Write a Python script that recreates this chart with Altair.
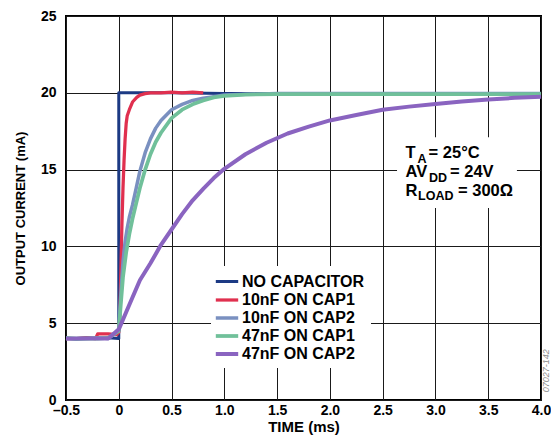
import altair as alt
import pandas as pd

# ---------------- data ----------------
series_names = ["NO CAPACITOR", "10nF ON CAP1", "10nF ON CAP2", "47nF ON CAP1", "47nF ON CAP2"]
series_colors = ["#1c3a84", "#e0304f", "#7a90c0", "#70c09a", "#8a64c0"]
series_widths = [3.0, 4.0, 2.8, 2.3, 2.0]

nocap_t = [-0.5, -0.4, -0.3, -0.2, -0.1, 0.0, 0.0, 0.2, 0.5, 1.0, 2.0, 3.0, 4.0]
nocap_v = [4.0, 4.0, 4.05, 4.0, 4.05, 4.0, 20.0, 20.0, 20.0, 19.95, 19.95, 19.95, 19.95]

cap1_10_t = [-0.5, -0.4, -0.3, -0.22, -0.2, -0.1, -0.02, 0.0, 0.01, 0.02, 0.03, 0.04, 0.05,
             0.06, 0.07, 0.08, 0.1, 0.13, 0.17, 0.2, 0.25, 0.3, 0.4, 0.5, 0.6, 0.7, 0.8]
cap1_10_v = [4.0, 4.0, 4.05, 4.0, 4.3, 4.3, 4.25, 4.4, 5.5, 8.5, 11.5, 13.8, 15.6,
             17.0, 18.0, 18.5, 18.9, 19.4, 19.7, 19.85, 19.95, 20.0, 20.0, 20.05, 20.0, 20.05, 20.0]

cap2_10_t = [-0.5, -0.4, -0.3, -0.2, -0.1, 0.0, 0.02, 0.04, 0.06, 0.08, 0.1, 0.13, 0.165,
             0.2, 0.25, 0.3, 0.35, 0.4, 0.5, 0.6, 0.7, 0.8, 0.9, 1.0, 1.2, 1.5, 2.0, 2.5,
             3.0, 3.5, 4.0]
cap2_10_v = [4.0, 3.95, 4.0, 4.05, 4.0, 4.5, 7.0, 9.0, 10.3, 11.2, 11.9, 12.7, 13.8,
             14.9, 16.1, 17.0, 17.7, 18.2, 18.9, 19.25, 19.5, 19.65, 19.75, 19.85, 19.9, 19.95, 19.95, 19.95,
             19.95, 19.95, 19.95]

cap1_47_t = [-0.5, -0.4, -0.3, -0.2, -0.1, 0.0, 0.02, 0.04, 0.07, 0.1, 0.13, 0.165, 0.2,
             0.25, 0.3, 0.35, 0.4, 0.5, 0.6, 0.7, 0.8, 0.9, 1.0, 1.2, 1.5, 2.0, 2.5, 3.0,
             3.5, 4.0]
cap1_47_v = [4.05, 4.0, 4.0, 4.0, 4.05, 4.5, 6.3, 8.0, 9.6, 10.8, 11.8, 12.8, 13.8,
             15.0, 16.0, 16.8, 17.4, 18.35, 18.9, 19.25, 19.5, 19.7, 19.8, 19.88, 19.92, 19.92, 19.92, 19.92,
             19.92, 19.92]

cap2_47_t = [-0.5, -0.4, -0.3, -0.2, -0.1, 0.0, 0.1, 0.2, 0.3, 0.4, 0.5, 0.6, 0.7, 0.8,
             0.9, 1.0, 1.2, 1.4, 1.6, 1.8, 2.0, 2.25, 2.5, 2.75, 3.0, 3.25, 3.5, 3.75, 4.0]
cap2_47_v = [4.0, 4.0, 4.0, 4.0, 4.0, 4.6, 6.2, 7.8, 8.9, 10.1, 11.1, 12.1, 13.0, 13.75,
             14.45, 15.05, 16.0, 16.75, 17.35, 17.8, 18.2, 18.55, 18.9, 19.1, 19.27, 19.43, 19.57, 19.67, 19.75]

# annotation box (data coordinates) and annotation text pieces
box_t = [2.636, 3.772]
box_v = [12.5, 17.1]
ann_text = ["T", "A", "= 25°C", "AV", "DD", "= 24V", "R", "LOAD", "= 300Ω"]
ann_t = [2.716, 2.831, 2.935, 2.716, 2.939, 3.138, 2.716, 2.835, 3.214]
ann_v = [15.74, 15.43, 15.74, 14.54, 14.21, 14.54, 13.30, 13.02, 13.30]
ann_size = [16.5, 12.5, 16.5, 16.5, 12.5, 16.5, 16.5, 12.5, 16.5]

x_ticks = [-0.5, 0.0, 0.5, 1.0, 1.5, 2.0, 2.5, 3.0, 3.5, 4.0]
y_ticks = [0, 5, 10, 15, 20, 25]

# ---------------- tables ----------------
rows = []
for name, ts, vs in zip(series_names,
                        [nocap_t, cap1_10_t, cap2_10_t, cap1_47_t, cap2_47_t],
                        [nocap_v, cap1_10_v, cap2_10_v, cap1_47_v, cap2_47_v]):
    for i, (t, v) in enumerate(zip(ts, vs)):
        rows.append({"series": name, "t": t, "v": v, "i": i})
df = pd.DataFrame(rows)

box_df = pd.DataFrame({"t": [box_t[0]], "t2": [box_t[1]], "v": [box_v[0]], "v2": [box_v[1]]})
ann_df = pd.DataFrame({"txt": ann_text, "t": ann_t, "v": ann_v, "fs": ann_size})
wm_df = pd.DataFrame({"txt": ["07027-142"], "t": [4.05], "v": [1.9]})

FONT = "Liberation Sans"

x_scale = alt.Scale(domain=[-0.5, 4.0], nice=False, zero=False)
y_scale = alt.Scale(domain=[0, 25], nice=False)

x_axis = alt.Axis(
    values=x_ticks,
    labelExpr="datum.value == 0 ? '0' : (datum.value < 0 ? '\u2013' + format(-datum.value, '.1f') : format(datum.value, '.1f'))",
    grid=True, gridColor="#1a1a1a", gridWidth=1, ticks=False, domain=False,
    labelFont=FONT, labelFontWeight="bold", labelFontSize=14, labelColor="black",
    labelPadding=3, labelFlush=False,
    title="TIME (ms)", titleFont=FONT, titleFontWeight="bold", titleFontSize=15,
    titleColor="black", titlePadding=2,
)
y_axis = alt.Axis(
    values=y_ticks, format="d",
    grid=True, gridColor="#1a1a1a", gridWidth=1, ticks=False, domain=False,
    labelFont=FONT, labelFontWeight="bold", labelFontSize=14, labelColor="black",
    labelPadding=10, labelFlush=False,
    title="OUTPUT CURRENT (mA)", titleFont=FONT, titleFontWeight="bold", titleFontSize=13,
    titleColor="black", titlePadding=13,
)

box = alt.Chart(box_df).mark_rect(fill="white").encode(
    x=alt.X("t:Q", scale=x_scale, axis=x_axis),
    x2="t2:Q",
    y=alt.Y("v:Q", scale=y_scale, axis=y_axis),
    y2="v2:Q",
)

lines = alt.Chart(df).mark_line(strokeJoin="round", strokeCap="butt").encode(
    x=alt.X("t:Q", scale=x_scale, axis=x_axis),
    y=alt.Y("v:Q", scale=y_scale, axis=y_axis),
    color=alt.Color(
        "series:N",
        scale=alt.Scale(domain=series_names, range=series_colors),
        sort=series_names,
        legend=alt.Legend(
            title=None, orient="none", legendX=145, legendY=250,
            fillColor="white", padding=6,
            symbolType="M-1.4,0H1.4", symbolSize=256, symbolStrokeWidth=3,
            labelFont=FONT, labelFontWeight="bold", labelFontSize=16, labelColor="black",
            labelOffset=5, rowPadding=0,
        ),
    ),
    strokeWidth=alt.StrokeWidth(
        "series:N", scale=alt.Scale(domain=series_names, range=series_widths), legend=None
    ),
    order="i:Q",
)

ann = alt.Chart(ann_df).mark_text(
    align="left", baseline="alphabetic", font=FONT, fontWeight="bold", color="black"
).encode(
    x=alt.X("t:Q", scale=x_scale),
    y=alt.Y("v:Q", scale=y_scale),
    size=alt.Size("fs:Q", scale=None),
    text="txt:N",
)

wm = alt.Chart(wm_df).mark_text(
    angle=270, align="center", baseline="middle", font=FONT, fontSize=9,
    fontStyle="italic", color="#8a8a8a"
).encode(
    x=alt.X("t:Q", scale=x_scale),
    y=alt.Y("v:Q", scale=y_scale),
    text="txt:N",
)

chart = alt.layer(box, lines, ann, wm).properties(
    width=475, height=384,
    autosize=alt.AutoSizeParams(type="none"),
    padding={"left": 58, "top": 8, "right": 10, "bottom": 35},
).configure_view(
    stroke="black", strokeWidth=2
)

chart.save("out.html", embed_options={"renderer": "svg", "actions": False})
